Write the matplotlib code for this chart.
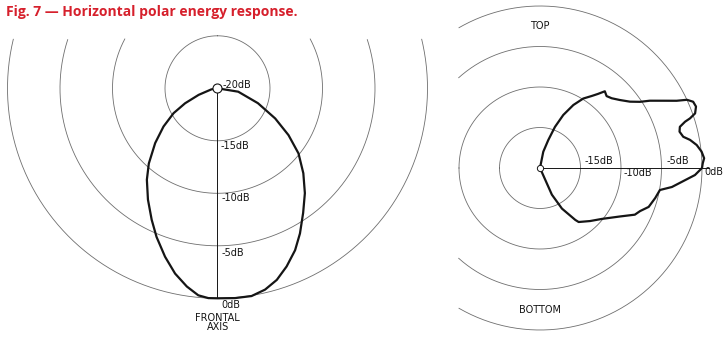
import numpy as np
import matplotlib
matplotlib.use("Agg")
import matplotlib.pyplot as plt

# Figure size in pixels (saved at 100 dpi)
W, H, DPI = 724, 343, 100

TITLE = "Fig. 7 \u2014 Horizontal polar energy response."

# dB rings shared by both plots (centre of each plot = -20 dB)
R_MIN, R_MAX = -20, 1
RING_LEVELS_DB = [-15, -10, -5, 0]

# Left plot: horizontal response, angle from the frontal axis (deg, + = right)
FRONT_ANGLE_DEG = [-90, -80, -70.8, -65.2, -60.5, -54.7, -48.7, -42.4, -37.7, -32.0,
                   -26.6, -22.3, -17.3, -12.9, -8.8, -5.3, -2.5, 0, 4.8, 9.3,
                   13.3, 17.2, 21.2, 25.6, 29.6, 34.5, 39.8, 45.3, 51.2, 56.6,
                   62.4, 69.8, 80.7, 90]
FRONT_LEVEL_DB = [-20, -19.4, -18.1, -16.6, -15.2, -13.7, -12.1, -10.3, -9.0, -7.5,
                  -6.0, -4.7, -3.2, -1.9, -0.9, -0.2, 0.0, 0.0, 0.05, 0.05,
                  -0.3, -0.9, -1.8, -2.9, -4.1, -5.6, -7.0, -8.5, -10.1, -11.9,
                  -13.8, -15.9, -18.0, -20]

# Right plot: vertical response, angle from the axis (deg, + = top)
VERT_ANGLE_DEG = [-90, -66, -61.6, -55.8, -54.4, -46.7, -39.4, -31.2, -26.2, -23.3,
                  -19.7, -14.6, -10.4, -8.2, -2.6, 0, 1.65, 3.4, 5.8, 8.35,
                  10.6, 12.3, 14.6, 16.4, 17.7, 18.3, 19.4, 21.5, 23.4, 24.9,
                  26.2, 28.6, 31.5, 33.5, 36.4, 40.4, 44.2, 47.2, 49.8, 52.0,
                  54.3, 58.1, 62.1, 66.3, 70.0, 73.5, 78.6, 90]
VERT_LEVEL_DB = [-20, -16.4, -14.3, -12.25, -11.8, -11.0, -10.1, -8.45, -6.95, -6.55,
                 -5.75, -5.3, -4.95, -3.55, -0.85, 0.0, 0.1, 0.3, 0.05, -0.45,
                 -1.15, -1.9, -2.2, -2.0, -1.2, -0.5, 0.3, 0.7, 0.6, 0.0,
                 -1.2, -2.65, -4.1, -5.2, -6.2, -7.05, -7.65, -7.9, -7.6, -8.4,
                 -9.05, -9.9, -11.2, -12.85, -14.6, -16.4, -17.95, -20]

# how far each ring is drawn either side of the axis (deg)
FRONT_RING_SPAN = [180, 118, 108, 103.5]
VERT_RING_SPAN = [180, 180, 132, 120]

RING_COLOR = "#6e6e6e"
INK = "#151515"
TITLE_RED = "#d6202c"


def make_polar(fig, center_px, px_per_db, zero_loc):
    cx, cy = center_px
    rad = (R_MAX - R_MIN) * px_per_db
    rect = [(cx - rad) / W, (H - cy - rad) / H, 2 * rad / W, 2 * rad / H]
    ax = fig.add_axes(rect, projection="polar")
    ax.set_theta_zero_location(zero_loc)
    ax.set_ylim(R_MIN, R_MAX)
    ax.set_xticks([])
    ax.set_yticks([])
    ax.grid(False)
    for sp in ax.spines.values():
        sp.set_visible(False)
    ax.patch.set_visible(False)
    return ax


def draw_rings(ax, spans):
    for level, span in zip(RING_LEVELS_DB, spans):
        th = np.radians(np.linspace(-span, span, 400))
        ax.plot(th, np.full_like(th, level), color=RING_COLOR, lw=0.6)


def label(ax, text, theta_deg, level, dx, dy, **kw):
    ax.annotate(text, xy=(np.radians(theta_deg), level), xytext=(dx, dy),
                textcoords="offset pixels", fontsize=7, color=INK,
                va="center", **kw)


fig = plt.figure(figsize=(W / DPI, H / DPI), dpi=DPI)
fig.patch.set_facecolor("white")

# ---- left: horizontal polar plot ----
axL = make_polar(fig, (217.5, 88.3), 10.5, "S")
draw_rings(axL, FRONT_RING_SPAN)
axL.plot(np.radians([0, 0]), [R_MIN, 0], color=INK, lw=0.7)
axL.plot(np.radians(FRONT_ANGLE_DEG), FRONT_LEVEL_DB, color=INK, lw=1.6)
axL.plot([0], [R_MIN], marker="o", ms=6.5, mfc="white", mec=INK, mew=0.8)

label(axL, "-20dB", 0, -20, 5.5, 3.5, ha="left")
label(axL, "-15dB", 0, -15, 3, -5, ha="left")
label(axL, "-10dB", 0, -10, 4, -5, ha="left")
label(axL, "-5dB", 0, -5, 4, -7, ha="left")
label(axL, "0dB", 0, 0, 4, -7, ha="left")
label(axL, "FRONTAL", 0, 0, 0, -20, ha="center")
label(axL, "AXIS", 0, 0, 1, -29, ha="center")

# ---- right: vertical polar plot ----
axR = make_polar(fig, (540, 168), 8.1, "E")
draw_rings(axR, VERT_RING_SPAN)
axR.plot(np.radians([0, 0]), [R_MIN, 0.9], color=INK, lw=0.7)
axR.plot(np.radians(VERT_ANGLE_DEG), VERT_LEVEL_DB, color=INK, lw=1.6)
axR.plot([0], [R_MIN], marker="o", ms=4.5, mfc="white", mec=INK, mew=0.7)

label(axR, "-15dB", 0, -15, 4.5, 7, ha="left")
label(axR, "-10dB", 0, -10, 3, -5, ha="left")
label(axR, "-5dB", 0, -5, 5, 7, ha="left")
label(axR, "0dB", 0, 0, 2, -4, ha="left")
label(axR, "TOP", 90, -2.5, 0, 0, ha="center")
label(axR, "BOTTOM", -90, -2.5, 0, 0, ha="center")

fig.text(6 / W, 1 - 12 / H, TITLE, color=TITLE_RED, fontsize=10,
         fontweight="bold", family="Open Sans", ha="left", va="center")

fig.savefig("out.png", dpi=DPI, facecolor="white")
